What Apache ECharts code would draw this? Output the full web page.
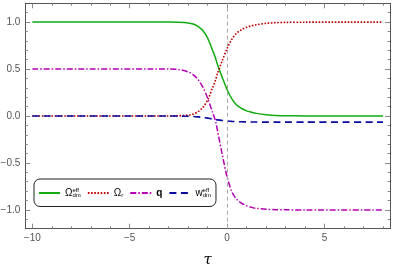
<!DOCTYPE html>
<html>
<head>
<meta charset="utf-8">
<script src="https://cdn.jsdelivr.net/npm/echarts@6/dist/echarts.min.js"></script>
<style>html,body{margin:0;padding:0;background:#fff}#c{width:394px;height:269px}</style>
</head>
<body>
<div id="c"></div>
<script>
const tau = [-10, -3, -2.5, -2, -1.75, -1.5, -1.25, -1, -0.75, -0.6, -0.5, -0.25, 0, 0.25, 0.5, 0.75, 1, 1.25, 1.5, 2, 2.5, 3, 4, 8];
const omegaDm = [1, 1, 0.997, 0.99, 0.98, 0.955, 0.91, 0.83, 0.70, 0.62, 0.55, 0.41, 0.28, 0.18, 0.115, 0.08, 0.055, 0.04, 0.028, 0.014, 0.006, 0.003, 0.001, 0];
const omegaR = [0, 0, 0.003, 0.01, 0.02, 0.045, 0.09, 0.17, 0.30, 0.38, 0.45, 0.59, 0.72, 0.82, 0.885, 0.92, 0.945, 0.96, 0.972, 0.986, 0.994, 0.997, 0.999, 1];
const qVals = [0.5, 0.5, 0.495, 0.47, 0.44, 0.39, 0.31, 0.19, 0.04, -0.05, -0.15, -0.41, -0.65, -0.81, -0.89, -0.93, -0.955, -0.973, -0.983, -0.993, -0.997, -0.999, -1, -1];
const wDm = [0, 0, -0.001, -0.003, -0.005, -0.009, -0.015, -0.023, -0.032, -0.037, -0.041, -0.048, -0.053, -0.057, -0.06, -0.062, -0.063, -0.064, -0.0645, -0.065, -0.065, -0.065, -0.065, -0.065];
const xMajor = [-10, -5, 0, 5];
const xMinor = [-9, -8, -7, -6, -4, -3, -2, -1, 1, 2, 3, 4, 6, 7, 8];
const yMajor = [-1, -0.5, 0, 0.5, 1];
const yMinor = [-1.1, -0.9, -0.8, -0.7, -0.6, -0.4, -0.3, -0.2, -0.1, 0.1, 0.2, 0.3, 0.4, 0.6, 0.7, 0.8, 0.9, 1.1];
const names = ['Ωdm_eff', 'Ωr', 'q', 'wdm_eff'];

const zip = a => tau.map((t, i) => [t, a[i]]);
const minus = s => s.replace('-', '\u2212');
const frame = '#555';
const tickC = '#888';
const font = 'Liberation Sans';

function xAx(pos, vals, len, labels, line) {
  return {
    type: 'value', position: pos, min: -10.36, max: 8.36,
    axisLine: {show: line, onZero: false, lineStyle: {color: frame, width: 1}},
    axisTick: {show: true, inside: true, length: len, customValues: vals, lineStyle: {color: tickC}},
    axisLabel: {show: labels, customValues: vals, color: '#555', fontSize: 10, fontFamily: font, margin: 5,
      formatter: v => minus(String(v))},
    splitLine: {show: false}
  };
}
function yAx(pos, vals, len, labels, line) {
  return {
    type: 'value', position: pos, min: -1.2, max: 1.2,
    axisLine: {show: line, onZero: false, lineStyle: {color: frame, width: 1}},
    axisTick: {show: true, inside: true, length: len, customValues: vals, lineStyle: {color: tickC}},
    axisLabel: {show: labels, customValues: vals, color: '#555', fontSize: 10, fontFamily: font, margin: 5,
      formatter: v => minus(v.toFixed(1))},
    splitLine: {show: false}
  };
}
const xa0 = xAx('bottom', xMajor, 5, true, true);
xa0.name = 'τ';
xa0.nameLocation = 'middle';
xa0.nameGap = 24;
xa0.nameTextStyle = {fontSize: 15, fontStyle: 'italic', color: '#000', fontFamily: 'DejaVu Serif'};

const rich = {
  o: {fontSize: 10, fontFamily: font, color: '#000'},
  sup: {fontSize: 6, fontFamily: font, color: '#000', width: 0.01, padding: [0, 0, 6, 0]},
  sub: {fontSize: 6, fontFamily: font, color: '#000', padding: [5, 0, 0, 0]},
  qq: {fontSize: 10, fontFamily: font, color: '#000', fontWeight: 'bold'}
};
const legendText = {
  'Ωdm_eff': '{o|Ω}{sup|eff}{sub|dm}',
  'Ωr': '{o|Ω}{sub|r}',
  'q': '{qq|q}',
  'wdm_eff': '{o|w}{sup|eff}{sub|dm}'
};

const chart = echarts.init(document.getElementById('c'), null, {renderer: 'canvas'});
chart.setOption({
  animation: false,
  backgroundColor: '#fff',
  grid: {left: 25.3, right: 4, top: 3.3, bottom: 40.3, containLabel: false, outerBoundsMode: 'none'},
  xAxis: [xa0, xAx('bottom', xMinor, 2.5, false, false), xAx('top', xMajor, 5, false, true), xAx('top', xMinor, 2.5, false, false)],
  yAxis: [yAx('left', yMajor, 5, true, true), yAx('left', yMinor, 2.5, false, false), yAx('right', yMajor, 5, false, true), yAx('right', yMinor, 2.5, false, false)],
  legend: {
    left: 34, top: 179, orient: 'horizontal',
    itemWidth: 21, itemHeight: 10, itemGap: 6,
    padding: [8, 5, 8, 4],
    borderColor: '#222', borderWidth: 1, borderRadius: 6,
    backgroundColor: '#fff',
    data: names,
    itemStyle: {opacity: 0},
    formatter: n => legendText[n],
    textStyle: {rich: rich, padding: [0, 0, 0, 0]}
  },
  series: [
    {name: names[0], type: 'line', data: zip(omegaDm), showSymbol: false, symbol: 'none', smooth: 0.3,
      lineStyle: {color: '#11aa11', width: 1.5}, itemStyle: {color: '#11aa11'},
      markLine: {silent: true, symbol: 'none', label: {show: false},
        lineStyle: {color: '#aaa', type: [4, 3], width: 1}, data: [{xAxis: 0}]}},
    {name: names[1], type: 'line', data: zip(omegaR), showSymbol: false, symbol: 'none', smooth: 0.3,
      lineStyle: {color: '#bb0000', width: 1.6, type: [1.6, 1.6]}, itemStyle: {color: '#bb0000'}},
    {name: names[2], type: 'line', data: zip(qVals), showSymbol: false, symbol: 'none', smooth: 0.3,
      lineStyle: {color: '#b400b4', width: 1.5, type: [6, 2, 1.5, 2]}, itemStyle: {color: '#b400b4'}},
    {name: names[3], type: 'line', data: zip(wDm), showSymbol: false, symbol: 'none', smooth: 0.3,
      lineStyle: {color: '#0a0aa0', width: 1.6, type: [7, 4.5]}, itemStyle: {color: '#0a0aa0'}}
  ]
});
</script>
</body>
</html>
